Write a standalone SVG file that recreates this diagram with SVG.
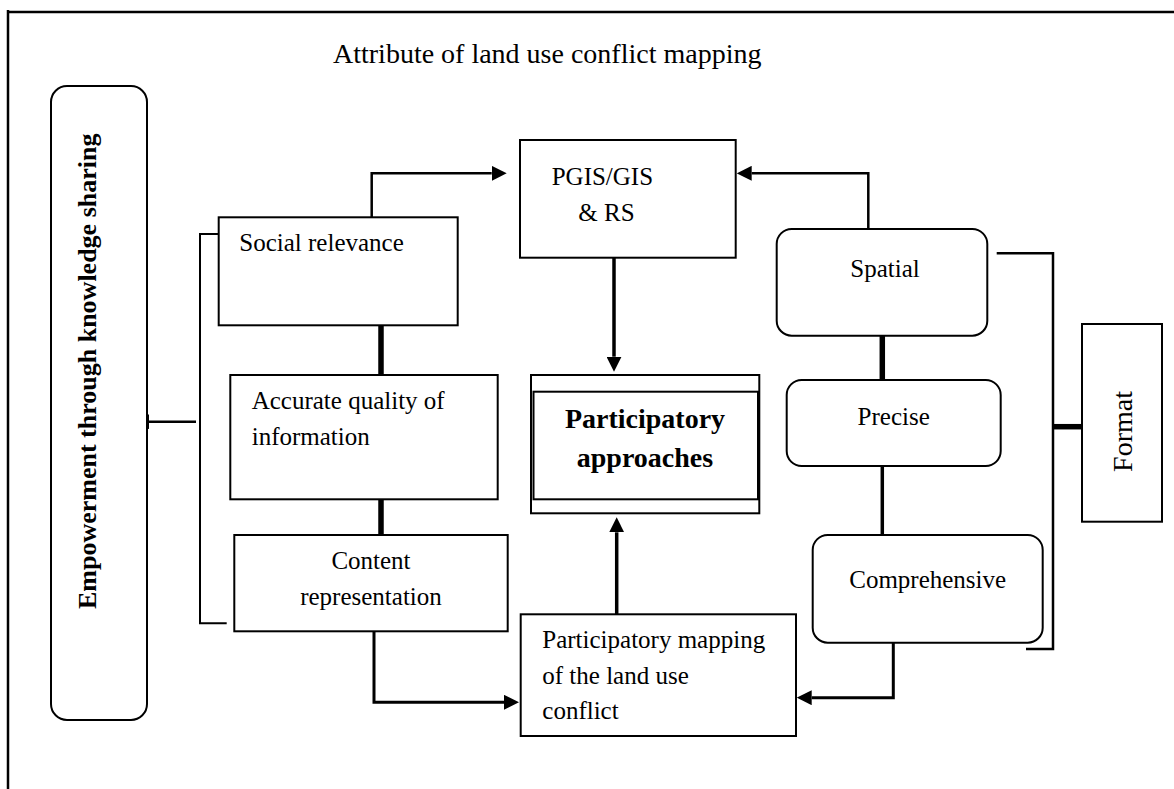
<svg xmlns="http://www.w3.org/2000/svg" width="1174" height="789" viewBox="0 0 1174 789">
<style>
text{font-family:"Liberation Serif","Times New Roman",serif;fill:#000;font-size:25px}
.b{font-weight:bold}
.box{fill:#fff;stroke:#000;stroke-width:2}
.c{fill:none;stroke:#000;stroke-linejoin:miter}
.mid{text-anchor:middle}
</style>
<defs>
<marker id="ah" viewBox="0 0 15 15" markerWidth="15" markerHeight="15" refX="0" refY="7.5" orient="auto" markerUnits="userSpaceOnUse">
<path d="M0,0 L15,7.5 L0,15 z" fill="#000"/>
</marker>
</defs>
<rect width="1174" height="789" fill="#fff"/>
<g id="frame">
<path d="M8,12 H1174 M8,10 V789" fill="none" stroke="#000" stroke-width="2.5"/>
</g>
<text x="333" y="62.7" style="font-size:28px">Attribute of land use conflict mapping</text>
<g id="connectors">
<path class="c" d="M371.7,217 V173.3 H491.7" stroke-width="2.5" marker-end="url(#ah)"/>
<path class="c" d="M868.3,229 V173.3 H751.7" stroke-width="2.5" marker-end="url(#ah)"/>
<path class="c" d="M614,258 V356.7" stroke-width="3.5" marker-end="url(#ah)"/>
<path class="c" d="M616.7,614 V532.3" stroke-width="3.5" marker-end="url(#ah)"/>
<path class="c" d="M374,631 V702.3 H504" stroke-width="3" marker-end="url(#ah)"/>
<path class="c" d="M893.3,643 V697.7 H811.7" stroke-width="3" marker-end="url(#ah)"/>
<path class="c" d="M219,234 H200 V623.3 H226.7" stroke-width="2"/>
<path class="c" d="M196,421.7 H149" stroke-width="2.5" marker-end="url(#ah)"/>
<path class="c" d="M381,325 V375" stroke-width="5.5"/>
<path class="c" d="M381,499 V535" stroke-width="5.5"/>
<path class="c" d="M882.3,335.7 V385" stroke-width="5.5"/>
<path class="c" d="M882.3,466 V537" stroke-width="3.5"/>
<path class="c" d="M996.7,253.3 H1053 V649 H1026" stroke-width="2.5"/>
<path class="c" d="M1053,426.7 H1082" stroke-width="5.5"/>
</g>
<g id="empowerment">
<rect class="box" x="51" y="86" width="96" height="634" rx="16"/>
<text class="b mid" transform="translate(96,371.3) rotate(-90)" style="font-size:26px">Empowerment through knowledge sharing</text>
</g>
<g id="social">
<rect class="box" x="218.7" y="217.3" width="239" height="108"/>
<text x="239.3" y="251">Social relevance</text>
</g>
<g id="accurate">
<rect class="box" x="230.3" y="375" width="267.4" height="124.3"/>
<text x="251.7" y="409.3">Accurate quality of</text>
<text x="251.7" y="445">information</text>
</g>
<g id="content">
<rect class="box" x="234.3" y="535" width="273.4" height="96.3"/>
<text class="mid" x="371" y="569.3">Content</text>
<text class="mid" x="371" y="605">representation</text>
</g>
<g id="pgis">
<rect class="box" x="520" y="140" width="215.7" height="117.7"/>
<text x="551.7" y="185">PGIS/GIS</text>
<text x="578.3" y="221">&amp; RS</text>
</g>
<g id="participatory">
<rect class="box" x="531" y="375" width="228.3" height="138.3"/>
<rect class="box" x="533.5" y="391.7" width="224.5" height="107.6"/>
<text class="b mid" x="645" y="428.3" style="font-size:28px">Participatory</text>
<text class="b mid" x="645" y="467" style="font-size:28px">approaches</text>
</g>
<g id="mapping">
<rect class="box" x="520.7" y="614.3" width="275.3" height="121.7"/>
<text x="542.3" y="648.3">Participatory mapping</text>
<text x="542.3" y="684">of the land use</text>
<text x="542.3" y="719.3">conflict</text>
</g>
<g id="spatial">
<rect class="box" x="776.7" y="229" width="210.6" height="106.7" rx="15"/>
<text class="mid" x="885" y="276.7">Spatial</text>
</g>
<g id="precise">
<rect class="box" x="786.7" y="380" width="214" height="86" rx="15"/>
<text class="mid" x="893.7" y="425">Precise</text>
</g>
<g id="comprehensive">
<rect class="box" x="812.7" y="535" width="230" height="107.7" rx="15"/>
<text class="mid" x="927.7" y="588.3">Comprehensive</text>
</g>
<g id="format">
<rect class="box" x="1082" y="324" width="80" height="197.7"/>
<text class="mid" transform="translate(1132,431.5) rotate(-90)" style="font-size:28px">Format</text>
</g>
</svg>
